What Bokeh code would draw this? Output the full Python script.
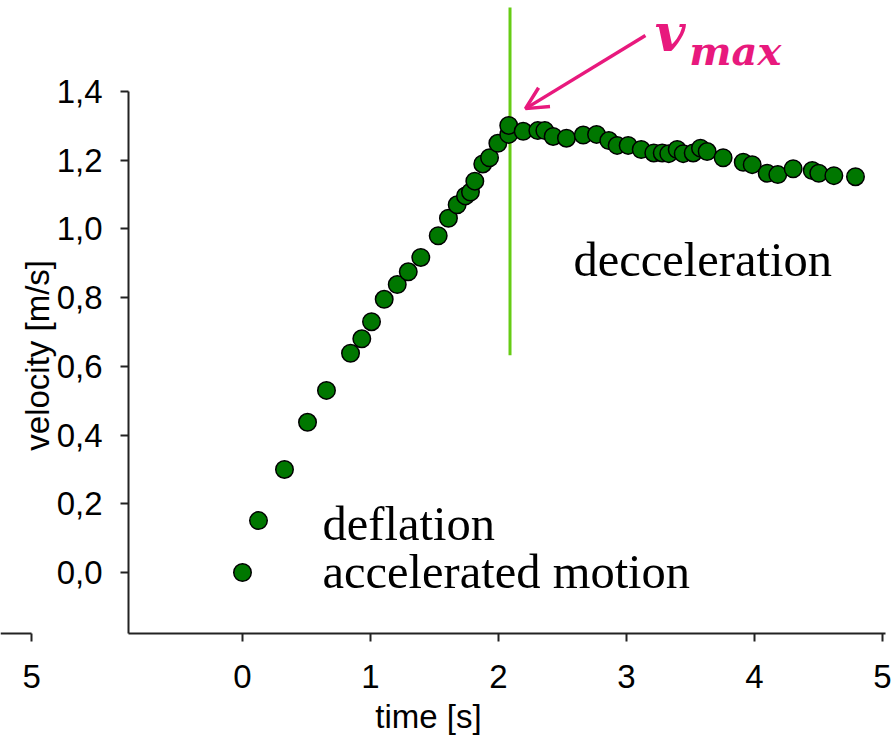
from math import pi
from bokeh.plotting import figure
from bokeh.models import (Range1d, LinearAxis, FixedTicker, CustomJSTickFormatter,
                          Label, Arrow, OpenHead, ColumnDataSource)
from bokeh.embed import file_html
from bokeh.resources import INLINE

# ---------------- data ----------------
time_s = [0.000, 0.125, 0.328, 0.508, 0.656, 0.844, 0.932, 1.008, 1.107, 1.209,
          1.295, 1.393, 1.529, 1.609, 1.677, 1.742, 1.781, 1.815, 1.877, 1.930,
          1.995, 2.080, 2.080, 2.193, 2.307, 2.362, 2.427, 2.531, 2.662, 2.766,
          2.862, 2.927, 3.013, 3.115, 3.213, 3.279, 3.330, 3.396, 3.443, 3.521,
          3.578, 3.630, 3.755, 3.912, 3.982, 4.099, 4.182, 4.302, 4.451, 4.502,
          4.620, 4.789]
velocity = [0.000, 0.151, 0.300, 0.437, 0.530, 0.638, 0.680, 0.730, 0.795, 0.838,
            0.875, 0.917, 0.980, 1.031, 1.070, 1.096, 1.107, 1.139, 1.189, 1.207,
            1.249, 1.275, 1.301, 1.284, 1.286, 1.286, 1.269, 1.264, 1.273, 1.275,
            1.257, 1.243, 1.243, 1.231, 1.221, 1.221, 1.219, 1.231, 1.219, 1.221,
            1.235, 1.225, 1.207, 1.194, 1.187, 1.162, 1.158, 1.175, 1.170, 1.162,
            1.155, 1.152]

x_ticks = [0, 1, 2, 3, 4, 5]
y_ticks = [0.0, 0.2, 0.4, 0.6, 0.8, 1.0, 1.2, 1.4]
neighbour_tick_label = "5"

vmax_time = 2.09          # vertical marker at maximum velocity
vmax_line_span = (0.632, 1.644)

# ---------------- styling / layout constants ----------------
W, H = 895, 742
X0, X1 = -1.890625, 5.1016
Y0, Y1 = -0.4948, 1.6647
axis_x_pos = -0.8906      # where the velocity axis sits
axis_y_pos = -0.1775      # where the time axis sits
neighbour_tick = -1.648

AXIS_COLOR = "#222222"
PINK = "#E8197D"
GREEN_LINE = "#66CC14"
DOT_GREEN = "#007700"
SANS_SIZE = "33px"

p = figure(width=W, height=H, x_range=Range1d(X0, X1), y_range=Range1d(Y0, Y1),
           output_backend="svg", toolbar_location=None,
           x_axis_location=None, y_axis_location=None,
           min_border=0, min_border_left=0, min_border_right=0,
           min_border_top=0, min_border_bottom=0)
p.grid.visible = False
p.outline_line_color = None
p.background_fill_color = "white"
p.border_fill_color = "white"


def style_axis(ax):
    ax.axis_line_color = AXIS_COLOR
    ax.axis_line_width = 2
    ax.major_tick_line_color = AXIS_COLOR
    ax.major_tick_line_width = 2
    ax.major_tick_in = 0
    ax.major_tick_out = 8
    ax.minor_tick_line_color = None
    ax.major_label_text_font = "Liberation Sans"
    ax.major_label_text_font_size = SANS_SIZE
    ax.major_label_text_color = "black"


yaxis = LinearAxis(fixed_location=axis_x_pos, bounds=(axis_y_pos, y_ticks[-1]),
                   ticker=FixedTicker(ticks=y_ticks),
                   formatter=CustomJSTickFormatter(code="return tick.toFixed(1).replace('.', ',')"))
style_axis(yaxis)
yaxis.major_label_standoff = 18
p.add_layout(yaxis, "left")

xaxis = LinearAxis(fixed_location=axis_y_pos, bounds=(axis_x_pos, 5.023),
                   ticker=FixedTicker(ticks=x_ticks))
style_axis(xaxis)
xaxis.major_label_standoff = 24
p.add_layout(xaxis, "below")

# cropped remnant of the neighbouring panel's time axis
xaxis2 = LinearAxis(fixed_location=axis_y_pos, bounds=(X0, neighbour_tick),
                    ticker=FixedTicker(ticks=[neighbour_tick]),
                    major_label_overrides={neighbour_tick: neighbour_tick_label})
style_axis(xaxis2)
xaxis2.major_label_standoff = 24
p.add_layout(xaxis2, "below")

# vertical line at v_max
p.segment(x0=[vmax_time], y0=[vmax_line_span[0]], x1=[vmax_time], y1=[vmax_line_span[1]],
          line_color=GREEN_LINE, line_width=3)

src = ColumnDataSource(dict(t=time_s, v=velocity))
p.scatter("t", "v", source=src, size=17.5, fill_color=DOT_GREEN,
          line_color="black", line_width=1.5)

serif = "Liberation Serif"
for txt, x, y in [("deflation", 0.625, 0.142),
                  ("accelerated motion", 0.625, 0.002),
                  ("decceleration", 2.586, 0.910)]:
    p.add_layout(Label(x=x, y=y, text=txt, text_font=serif, text_font_size="48.5px",
                       text_color="black", text_align="left", text_baseline="alphabetic"))

math_font = "DejaVu Serif"
p.add_layout(Label(x=3.22, y=1.5716, text="v", text_font=math_font, text_font_size="53px",
                   text_font_style="bold italic", text_color=PINK,
                   text_align="left", text_baseline="middle"))
p.add_layout(Label(x=3.49, y=1.518, text="max", text_font=math_font, text_font_size="40px",
                   text_font_style="bold italic", text_color=PINK,
                   text_align="left", text_baseline="middle"))

p.add_layout(Arrow(end=OpenHead(size=22, line_color=PINK, line_width=3.5),
                   x_start=3.148, y_start=1.563, x_end=2.211, y_end=1.350,
                   line_color=PINK, line_width=3.5))

# axis titles
p.add_layout(Label(x=-1.60, y=0.632, text="velocity [m/s]", angle=pi / 2,
                   text_font="Liberation Sans", text_font_size=SANS_SIZE,
                   text_align="center", text_baseline="middle", text_color="black"))
p.add_layout(Label(x=1.453, y=-0.419, text="time [s]",
                   text_font="Liberation Sans", text_font_size=SANS_SIZE,
                   text_align="center", text_baseline="middle", text_color="black"))

open("out.html", "w").write(file_html(p, INLINE))
